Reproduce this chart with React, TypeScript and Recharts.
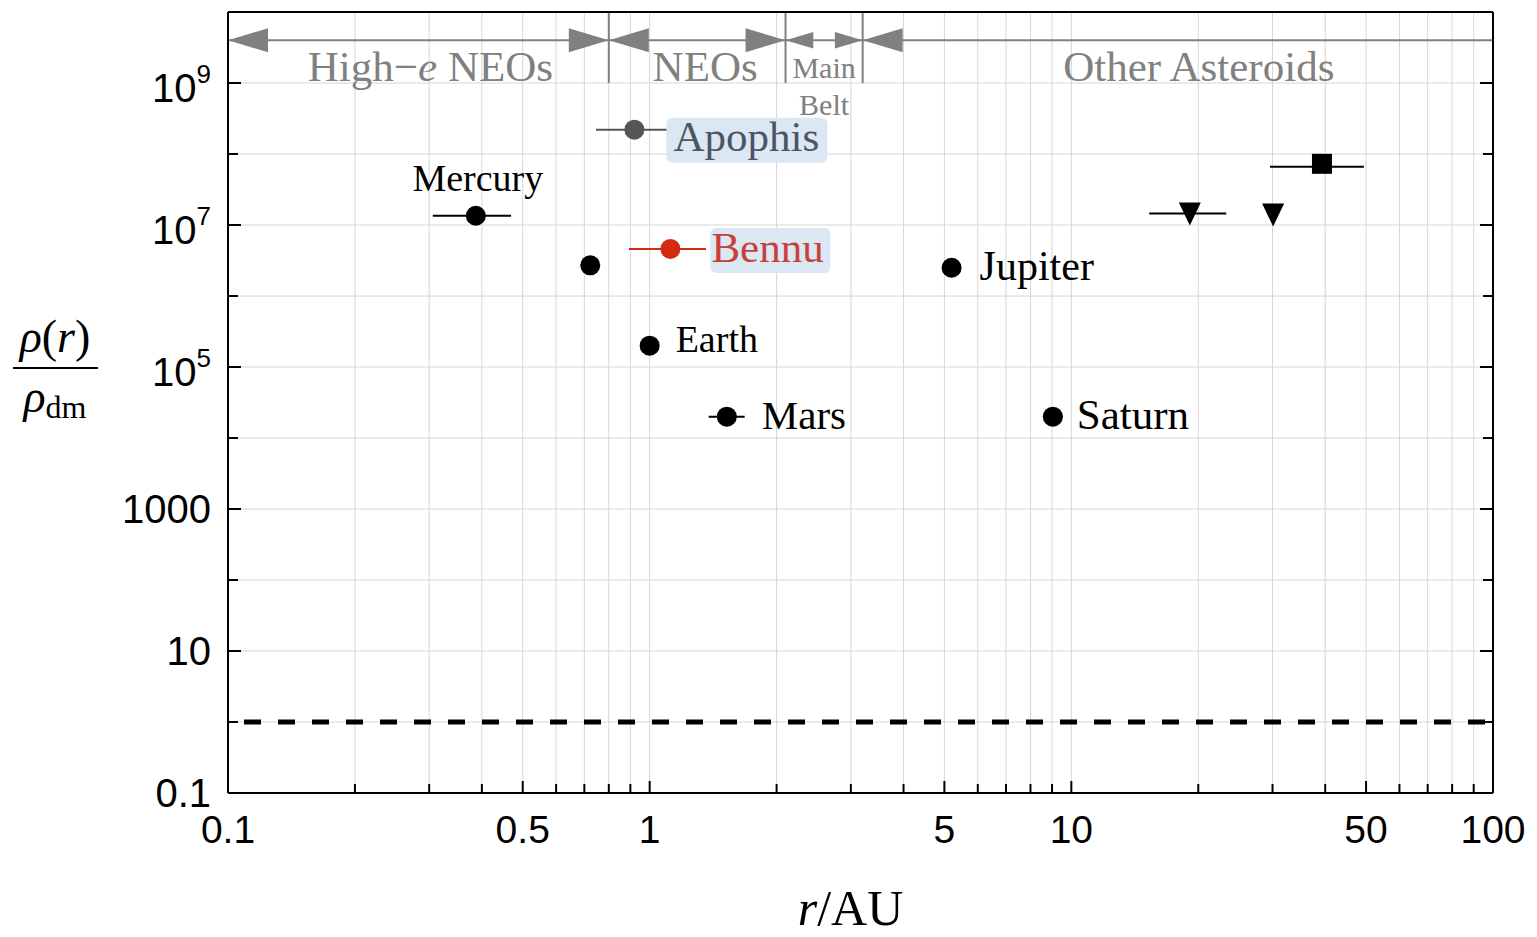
import React from "react";
import {
  ComposedChart,
  Scatter,
  XAxis,
  YAxis,
  CartesianGrid,
  ReferenceLine,
  ErrorBar,
} from "recharts";

// planets: orbital radius (AU), r error [low, high], density ratio
const planetNames = ["Mercury", "Venus", "Earth", "Mars", "Jupiter", "Saturn"];
const planetR = [0.387, 0.723, 1.0, 1.524, 5.2, 9.04];
const planetRErr = [
  [0.081, 0.082],
  [0, 0],
  [0, 0],
  [0.144, 0.156],
  [0, 0],
  [0.48, 0.51],
];
const planetRho = [1.35e7, 2.7e6, 2.0e5, 2.0e4, 2.5e6, 2.0e4];

// highlighted asteroids
const asteroidNames = ["Apophis", "Bennu"];
const asteroidR = [0.92, 1.12];
const asteroidRErr = [
  [0.174, 0.184],
  [0.227, 0.24],
];
const asteroidRho = [2.2e8, 4.6e6];

// outer bounds (triangles) and outer point (square)
const triangleR = [19.1, 30.1];
const triangleRErr = [
  [3.8, 4.2],
  [0, 0],
];
const triangleRho = [1.45e7, 1.4e7];
const squareR = [39.3];
const squareRErr = [[9.7, 10.1]];
const squareRho = [6.6e7];

// population regions along r
const regionEdges = [0.1, 0.8, 2.1, 3.2, 100];
const regionNames = ["High−e NEOs", "NEOs", "Main Belt", "Other Asteroids"];
const arrowLevel = 4e9;
const dividerBottom = 1e9;
const dividerTop = 1e10;
const dmLevel = 1;

const xTicks = [
  0.1, 0.2, 0.3, 0.4, 0.5, 0.6, 0.7, 0.8, 0.9, 1, 2, 3, 4, 5, 6, 7, 8, 9, 10,
  20, 30, 40, 50, 60, 70, 80, 90, 100,
];
const xLabeled = [0.1, 0.5, 1, 5, 10, 50, 100];
const yTicks = [0.1, 1, 10, 100, 1e3, 1e4, 1e5, 1e6, 1e7, 1e8, 1e9, 1e10];
const yLabels: [number, string, string][] = [
  [0.1, "0.1", ""],
  [10, "10", ""],
  [1000, "1000", ""],
  [1e5, "10", "5"],
  [1e7, "10", "7"],
  [1e9, "10", "9"],
];

const planetData = planetNames.map((name, i) => ({
  name,
  r: planetR[i],
  rho: planetRho[i],
  rErr: planetRErr[i],
}));
const asteroidData = asteroidNames.map((name, i) => ({
  name,
  r: asteroidR[i],
  rho: asteroidRho[i],
  rErr: asteroidRErr[i],
}));
const triangleData = triangleR.map((r, i) => ({
  r,
  rho: triangleRho[i],
  rErr: triangleRErr[i],
}));
const squareData = squareR.map((r, i) => ({
  r,
  rho: squareRho[i],
  rErr: squareRErr[i],
}));

const SERIF = "'Liberation Serif', 'DejaVu Serif', serif";
const SANS = "'Liberation Sans', Arial, sans-serif";
const GRAY = "#808080";

const planetLabel: Record<string, { dx: number; dy: number; size: number; anchor: string }> = {
  Mercury: { dx: 2, dy: -25, size: 38, anchor: "middle" },
  Earth: { dx: 26, dy: 6, size: 38, anchor: "start" },
  Mars: { dx: 35, dy: 12, size: 41, anchor: "start" },
  Jupiter: { dx: 28, dy: 12, size: 42, anchor: "start" },
  Saturn: { dx: 24, dy: 12, size: 43, anchor: "start" },
};

const asteroidStyle: Record<
  string,
  { dot: string; text: string; dx: number; dy: number; box: [number, number, number, number] }
> = {
  Apophis: { dot: "#555555", text: "#4b5563", dx: 39, dy: 21, box: [32, -12, 161, 45] },
  Bennu: { dot: "#d42a10", text: "#c8403a", dx: 41, dy: 13, box: [40, -21, 120, 45] },
};

const regionShift: Record<string, number> = {
  "High−e NEOs": 12,
  NEOs: 8,
  "Main Belt": 0,
  "Other Asteroids": 21,
};

function PlanetShape(props: any) {
  const { cx, cy, payload } = props;
  const lab = planetLabel[payload.name];
  return (
    <g>
      <circle cx={cx} cy={cy} r={10} fill="#000" />
      {lab && (
        <text
          x={cx + lab.dx}
          y={cy + lab.dy}
          fontFamily={SERIF}
          fontSize={lab.size}
          textAnchor={lab.anchor as any}
          fill="#000"
        >
          {payload.name}
        </text>
      )}
    </g>
  );
}

function AsteroidShape(props: any) {
  const { cx, cy, payload } = props;
  const s = asteroidStyle[payload.name];
  return (
    <g>
      <rect
        x={cx + s.box[0]}
        y={cy + s.box[1]}
        width={s.box[2]}
        height={s.box[3]}
        rx={6}
        fill="#dce7f4"
      />
      <circle cx={cx} cy={cy} r={10} fill={s.dot} />
      <text x={cx + s.dx} y={cy + s.dy} fontFamily={SERIF} fontSize={43} fill={s.text}>
        {payload.name}
      </text>
    </g>
  );
}

function TriangleShape(props: any) {
  const { cx, cy } = props;
  return (
    <polygon
      points={`${cx - 11},${cy - 11} ${cx + 11},${cy - 11} ${cx},${cy + 12}`}
      fill="#000"
    />
  );
}

function SquareShape(props: any) {
  const { cx, cy } = props;
  return <rect x={cx - 10} y={cy - 13} width={20} height={20} fill="#000" />;
}

const makeArrow = (i: number) => (p: any) => {
  const x1 = Number(p.x1);
  const x2 = Number(p.x2);
  const y = Number(p.y1);
  const span = x2 - x1;
  const head = Math.min(40, span * 0.36);
  const hw = head * 0.3;
  const last = i === regionNames.length - 1;
  const name = regionNames[i];
  const cx = (x1 + x2) / 2 + (regionShift[name] ?? 0);
  let label: React.ReactNode;
  if (name === "Main Belt") {
    label = (
      <g fontFamily={SERIF} fill={GRAY} fontSize={30} textAnchor="middle">
        <text x={cx} y={y + 38}>Main</text>
        <text x={cx} y={y + 75}>Belt</text>
      </g>
    );
  } else if (name.startsWith("High−e")) {
    label = (
      <text x={cx} y={y + 41} fontFamily={SERIF} fill={GRAY} fontSize={43} textAnchor="middle">
        High−<tspan fontStyle="italic">e</tspan> NEOs
      </text>
    );
  } else {
    label = (
      <text x={cx} y={y + 41} fontFamily={SERIF} fill={GRAY} fontSize={43} textAnchor="middle">
        {name}
      </text>
    );
  }
  return (
    <g>
      <line x1={x1} y1={y} x2={x2} y2={y} stroke={GRAY} strokeWidth={2} />
      <polygon points={`${x1},${y} ${x1 + head},${y - hw} ${x1 + head},${y + hw}`} fill={GRAY} />
      {!last && (
        <polygon points={`${x2},${y} ${x2 - head},${y - hw} ${x2 - head},${y + hw}`} fill={GRAY} />
      )}
      {label}
    </g>
  );
};

const isIn = (list: number[], v: number) => list.some((t) => Math.abs(t - v) / t < 1e-6);

function XTick(props: any) {
  const { x, y, payload, top } = props;
  const v = payload.value;
  const major = isIn(xLabeled, v);
  const len = major ? 12 : 9;
  if (top) {
    return <line x1={x} y1={y} x2={x} y2={y + len} stroke="#000" strokeWidth={2} />;
  }
  return (
    <g>
      <line x1={x} y1={y} x2={x} y2={y - len} stroke="#000" strokeWidth={2} />
      {major && (
        <text x={x} y={y + 50} textAnchor="middle" fontFamily={SANS} fontSize={39} fill="#000">
          {String(v)}
        </text>
      )}
    </g>
  );
}

function YTick(props: any) {
  const { x, y, payload, right } = props;
  const v = payload.value;
  const lab = yLabels.find((l) => Math.abs(l[0] - v) / l[0] < 1e-6);
  const len = lab ? 13 : 10;
  if (right) {
    return <line x1={x} y1={y} x2={x - len} y2={y} stroke="#000" strokeWidth={2} />;
  }
  return (
    <g>
      <line x1={x} y1={y} x2={x + len} y2={y} stroke="#000" strokeWidth={2} />
      {lab && (
        <text
          x={x - 17}
          y={y + (lab[2] ? 19 : 14)}
          textAnchor="end"
          fontFamily={SANS}
          fontSize={40}
          fill="#000"
        >
          {lab[1]}
          {lab[2] && (
            <tspan fontSize={26} dy={-19}>
              {lab[2]}
            </tspan>
          )}
        </text>
      )}
    </g>
  );
}

function YTitle(props: any) {
  const vb = props.viewBox ?? { x: 0, y: 0 };
  const cx = vb.x + 55;
  const ly = 368;
  return (
    <g fontFamily={SERIF} fill="#000">
      <text x={cx} y={ly - 16} textAnchor="middle" fontSize={46}>
        <tspan fontStyle="italic">ρ</tspan>(<tspan fontStyle="italic">r</tspan>)
      </text>
      <line x1={vb.x + 13} y1={ly} x2={vb.x + 98} y2={ly} stroke="#000" strokeWidth={2} />
      <text x={cx} y={ly + 44} textAnchor="middle" fontSize={46}>
        <tspan fontStyle="italic">ρ</tspan>
        <tspan fontSize={32} dy={6}>
          dm
        </tspan>
      </text>
    </g>
  );
}

function XTitle(props: any) {
  const vb = props.viewBox ?? { x: 0, y: 0, width: 0 };
  return (
    <text
      x={vb.x + vb.width / 2 - 10}
      y={vb.y + 132}
      textAnchor="middle"
      fontFamily={SERIF}
      fontSize={50}
      fill="#000"
    >
      <tspan fontStyle="italic">r</tspan>/AU
    </text>
  );
}

export default function App() {
  return (
    <div style={{ position: "absolute", left: 0, top: 0, background: "#fff" }}>
      <ComposedChart
        width={1537}
        height={937}
        margin={{ top: 0, right: 0, left: 0, bottom: 0 }}
      >
        <CartesianGrid stroke="#d6d6d6" strokeWidth={1} />
        <XAxis
          xAxisId={0}
          dataKey="r"
          type="number"
          scale="log"
          domain={[0.1, 100]}
          allowDataOverflow
          ticks={xTicks}
          interval={0}
          height={144}
          tickSize={0}
          tickMargin={0}
          tickLine={false}
          axisLine={{ stroke: "#000", strokeWidth: 2 }}
          tick={<XTick />}
          label={{ content: (p: any) => <XTitle {...p} /> }}
        />
        <XAxis
          xAxisId="top"
          orientation="top"
          type="number"
          scale="log"
          domain={[0.1, 100]}
          allowDataOverflow
          ticks={xTicks}
          interval={0}
          height={12}
          tickSize={0}
          tickMargin={0}
          tickLine={false}
          axisLine={{ stroke: "#000", strokeWidth: 2 }}
          tick={<XTick top />}
        />
        <YAxis
          yAxisId={0}
          dataKey="rho"
          type="number"
          scale="log"
          domain={[0.1, 1e10]}
          allowDataOverflow
          ticks={yTicks}
          interval={0}
          width={228}
          tickSize={0}
          tickMargin={0}
          tickLine={false}
          axisLine={{ stroke: "#000", strokeWidth: 2 }}
          tick={<YTick />}
          label={{ content: (p: any) => <YTitle {...p} /> }}
        />
        <YAxis
          yAxisId="right"
          orientation="right"
          type="number"
          scale="log"
          domain={[0.1, 1e10]}
          allowDataOverflow
          ticks={yTicks}
          interval={0}
          width={44}
          tickSize={0}
          tickMargin={0}
          tickLine={false}
          axisLine={{ stroke: "#000", strokeWidth: 2 }}
          tick={<YTick right />}
        />

        <ReferenceLine
          y={dmLevel}
          stroke="#000"
          strokeWidth={5}
          strokeDasharray="17 17"
          strokeDashoffset={18}
        />
        {regionEdges.slice(1, -1).map((e) => (
          <ReferenceLine
            key={`div-${e}`}
            segment={[
              { x: e, y: dividerBottom },
              { x: e, y: dividerTop },
            ]}
            stroke={GRAY}
            strokeWidth={2}
            ifOverflow="visible"
          />
        ))}
        {regionNames.map((name, i) => (
          <ReferenceLine
            key={`reg-${name}`}
            segment={[
              { x: regionEdges[i], y: arrowLevel },
              { x: regionEdges[i + 1], y: arrowLevel },
            ]}
            ifOverflow="visible"
            shape={makeArrow(i)}
          />
        ))}

        <Scatter data={planetData} shape={<PlanetShape />} isAnimationActive={false}>
          <ErrorBar dataKey="rErr" direction="x" width={0} stroke="#000" strokeWidth={2} />
        </Scatter>
        <Scatter data={asteroidData.slice(0, 1)} shape={<AsteroidShape />} isAnimationActive={false}>
          <ErrorBar dataKey="rErr" direction="x" width={0} stroke="#555555" strokeWidth={2} />
        </Scatter>
        <Scatter data={asteroidData.slice(1)} shape={<AsteroidShape />} isAnimationActive={false}>
          <ErrorBar dataKey="rErr" direction="x" width={0} stroke="#d42a10" strokeWidth={2} />
        </Scatter>
        <Scatter data={triangleData} shape={<TriangleShape />} isAnimationActive={false}>
          <ErrorBar dataKey="rErr" direction="x" width={0} stroke="#000" strokeWidth={2} />
        </Scatter>
        <Scatter data={squareData} shape={<SquareShape />} isAnimationActive={false}>
          <ErrorBar dataKey="rErr" direction="x" width={0} stroke="#000" strokeWidth={2} />
        </Scatter>
      </ComposedChart>
    </div>
  );
}
